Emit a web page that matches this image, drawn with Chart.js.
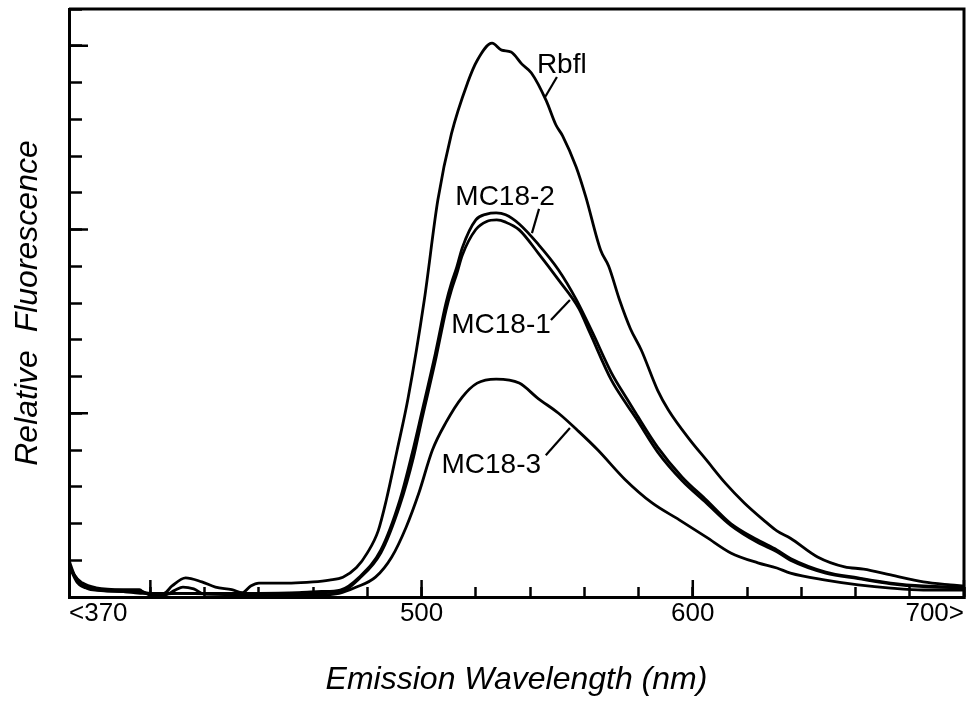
<!DOCTYPE html>
<html>
<head>
<meta charset="utf-8">
<script src="https://cdn.jsdelivr.net/npm/chart.js@4.4.1/dist/chart.umd.min.js"></script>
<style>
  html, body { margin: 0; padding: 0; background: #fff; }
  #wrap { width: 975px; height: 703px; }
</style>
</head>
<body>
<div id="wrap"><canvas id="spectra" width="975" height="703"></canvas></div>
<script>
// emission spectra (relative fluorescence, arbitrary units)
const rbflNm  = [370, 372, 375, 380, 390, 396, 398, 405, 408, 413, 419, 424, 430, 434, 437, 440, 452, 460, 466, 471, 476, 480, 484, 487, 491, 495, 501, 506, 511, 517, 520.5, 526, 529.5, 533, 537, 540.5, 546, 549.5, 552, 557, 560.5, 566, 569, 573, 577, 581, 587, 591, 599, 605, 612, 619, 626, 631, 636, 646, 656, 663, 673, 685, 695, 700];
const rbflVal = [1.0, 0.6, 0.38, 0.25, 0.2, 0.2, 0.1, 0.1, 0.3, 0.52, 0.41, 0.27, 0.2, 0.12, 0.3, 0.38, 0.38, 0.41, 0.46, 0.54, 0.8, 1.2, 1.8, 2.64, 4.0, 5.4, 8.08, 10.8, 12.6, 14.0, 14.6, 15.07, 14.88, 14.83, 14.5, 14.26, 13.5, 12.85, 12.55, 11.7, 10.9, 9.44, 9.0, 8.08, 7.3, 6.72, 5.63, 5.09, 4.27, 3.73, 3.1, 2.56, 2.1, 1.8, 1.6, 1.09, 0.82, 0.76, 0.6, 0.41, 0.33, 0.3];

const mc182Nm  = [370, 373, 378, 390, 397, 400, 410, 425, 440, 455, 463, 470, 477, 485, 492, 496.5, 500, 505, 509, 511, 513, 515, 520, 524, 527.5, 531, 536, 543, 550.5, 557, 563, 570, 576, 579, 587, 596, 605, 614, 624, 631, 636, 649, 661, 673, 685, 698, 700];
const mc182Val = [0.9, 0.45, 0.25, 0.18, 0.15, 0.05, 0.1, 0.1, 0.1, 0.12, 0.15, 0.19, 0.54, 1.28, 2.64, 3.9, 5.0, 6.6, 8.0, 8.54, 8.98, 9.5, 10.26, 10.42, 10.45, 10.4, 10.15, 9.6, 8.9, 8.1, 7.2, 6.1, 5.36, 5.0, 4.08, 3.27, 2.64, 2.0, 1.55, 1.28, 1.05, 0.68, 0.52, 0.38, 0.3, 0.27, 0.27];

const mc181Nm  = [370, 373, 378, 390, 398, 405, 409, 412, 416, 420, 430, 450, 470, 477, 485, 492, 497, 500, 505, 509, 511, 513, 515, 520, 524, 527.7, 531, 536, 543, 550.5, 558, 562, 570, 576, 579, 587, 596, 605, 614, 624, 631, 636, 649, 661, 673, 685, 698, 700];
const mc181Val = [0.85, 0.4, 0.22, 0.15, 0.12, 0.05, 0.18, 0.27, 0.22, 0.08, 0.08, 0.1, 0.15, 0.5, 1.2, 2.5, 3.8, 4.8, 6.4, 7.8, 8.35, 8.8, 9.3, 10.0, 10.22, 10.26, 10.2, 9.99, 9.36, 8.63, 7.85, 7.2, 5.9, 5.2, 4.87, 3.95, 3.17, 2.56, 1.95, 1.48, 1.23, 1.0, 0.65, 0.5, 0.36, 0.28, 0.25, 0.25];

const mc183Nm  = [370, 374, 378, 390, 397, 410, 440, 460, 469.6, 476, 483, 489, 494.3, 499, 504, 509, 515, 520.5, 527.5, 536, 543, 550.5, 558, 565, 575, 585, 595, 605, 614, 624, 631, 636, 649, 661, 673, 685, 698, 700];
const mc183Val = [0.8, 0.4, 0.2, 0.15, 0.1, 0.1, 0.05, 0.05, 0.1, 0.27, 0.54, 1.09, 1.9, 2.83, 4.0, 4.75, 5.44, 5.82, 5.93, 5.82, 5.4, 5.0, 4.5, 4.0, 3.2, 2.56, 2.1, 1.63, 1.2, 0.93, 0.79, 0.65, 0.46, 0.33, 0.24, 0.19, 0.19, 0.19];

// axis ticks
const xTickNm    = [370, 400, 420, 440, 460, 480, 500, 520, 540, 560, 580, 600, 620, 640, 660, 680, 700];
const xMajorNm   = [400, 500, 600, 700];
const xLabelNm   = [370, 500, 600, 700];
const xLabelText = ['<370', '500', '600', '700>'];
const yMajorVal  = [5, 10, 15];

// curve names, where they sit, and their leader lines [nm1, val1, nm2, val2]
const labelText = ['Rbfl', 'MC18-2', 'MC18-1', 'MC18-3'];
const labelNm   = [551.7, 530.8, 529.3, 525.7];
const labelVal  = [14.48, 10.88, 7.4, 3.59];
const leaders   = [
  [549.9, 14.15, 545.5, 13.6],
  [543.3, 10.56, 540.7, 9.9],
  [547.7, 7.54, 554.7, 8.08],
  [545.8, 3.86, 554.7, 4.6]
];

const FONT = '"Liberation Sans", Arial, Helvetica, sans-serif';

function series(nm, vals) {
  return {
    data: nm.map((n, i) => ({ x: n, y: vals[i] })),
    borderColor: '#000',
    borderWidth: 2.8,
    pointRadius: 0,
    fill: false,
    cubicInterpolationMode: 'monotone'
  };
}

// top/right frame + the longer major tick marks
const frame = {
  id: 'frame',
  afterDraw(chart) {
    const { ctx, chartArea: a, scales: { x, y } } = chart;
    ctx.save();
    ctx.strokeStyle = '#000';
    ctx.lineWidth = 3;
    ctx.beginPath();
    ctx.moveTo(a.left, a.top);
    ctx.lineTo(a.right, a.top);
    ctx.lineTo(a.right, a.bottom);
    ctx.stroke();
    ctx.lineWidth = 2.5;
    xMajorNm.forEach(n => {
      const px = x.getPixelForValue(n);
      ctx.beginPath();
      ctx.moveTo(px, a.bottom);
      ctx.lineTo(px, a.bottom - 17);
      ctx.stroke();
    });
    yMajorVal.forEach(v => {
      const py = y.getPixelForValue(v);
      ctx.beginPath();
      ctx.moveTo(a.left, py);
      ctx.lineTo(a.left + 19, py);
      ctx.stroke();
    });
    ctx.restore();
  }
};

const curveLabels = {
  id: 'curveLabels',
  afterDatasetsDraw(chart) {
    const { ctx, scales: { x, y } } = chart;
    ctx.save();
    ctx.fillStyle = '#000';
    ctx.strokeStyle = '#000';
    ctx.lineWidth = 2.2;
    ctx.font = '28px ' + FONT;
    ctx.textAlign = 'center';
    ctx.textBaseline = 'middle';
    labelText.forEach((t, i) => {
      ctx.fillText(t, x.getPixelForValue(labelNm[i]), y.getPixelForValue(labelVal[i]));
      const [n1, v1, n2, v2] = leaders[i];
      ctx.beginPath();
      ctx.moveTo(x.getPixelForValue(n1), y.getPixelForValue(v1));
      ctx.lineTo(x.getPixelForValue(n2), y.getPixelForValue(v2));
      ctx.stroke();
    });
    ctx.restore();
  }
};

new Chart(document.getElementById('spectra'), {
  type: 'line',
  data: {
    datasets: [
      series(rbflNm, rbflVal),
      series(mc182Nm, mc182Val),
      series(mc181Nm, mc181Val),
      series(mc183Nm, mc183Val)
    ]
  },
  options: {
    responsive: false,
    animation: false,
    devicePixelRatio: 1,
    layout: { padding: { top: 9, right: 7, left: 0, bottom: 0 } },
    plugins: { legend: { display: false }, tooltip: { enabled: false } },
    scales: {
      x: {
        type: 'linear',
        min: 370,
        max: 700,
        afterBuildTicks: s => { s.ticks = xTickNm.map(v => ({ value: v })); },
        afterFit: s => { s.height = 106; },
        ticks: {
          autoSkip: false,
          maxRotation: 0,
          align: 'inner',
          padding: 11,
          color: '#000',
          font: { family: FONT, size: 26 },
          callback: v => {
            const i = xLabelNm.indexOf(v);
            return i >= 0 ? xLabelText[i] : '';
          }
        },
        grid: { drawOnChartArea: false, tickLength: -10, tickWidth: 2.5, tickColor: '#000' },
        border: { color: '#000', width: 3 },
        title: {
          display: true,
          text: 'Emission Wavelength (nm)',
          color: '#000',
          font: { family: FONT, size: 32, style: 'italic' },
          padding: { top: 0, bottom: 4 }
        }
      },
      y: {
        min: 0,
        max: 16,
        afterFit: s => { s.width = 69; },
        ticks: { stepSize: 1, display: false },
        grid: { drawOnChartArea: false, tickLength: -13, tickWidth: 2.5, tickColor: '#000' },
        border: { color: '#000', width: 3 },
        title: {
          display: true,
          text: 'Relative  Fluorescence',
          color: '#000',
          font: { family: FONT, size: 32, style: 'italic' },
          padding: { top: 9, bottom: 0 }
        }
      }
    }
  },
  plugins: [frame, curveLabels]
});
</script>
</body>
</html>
